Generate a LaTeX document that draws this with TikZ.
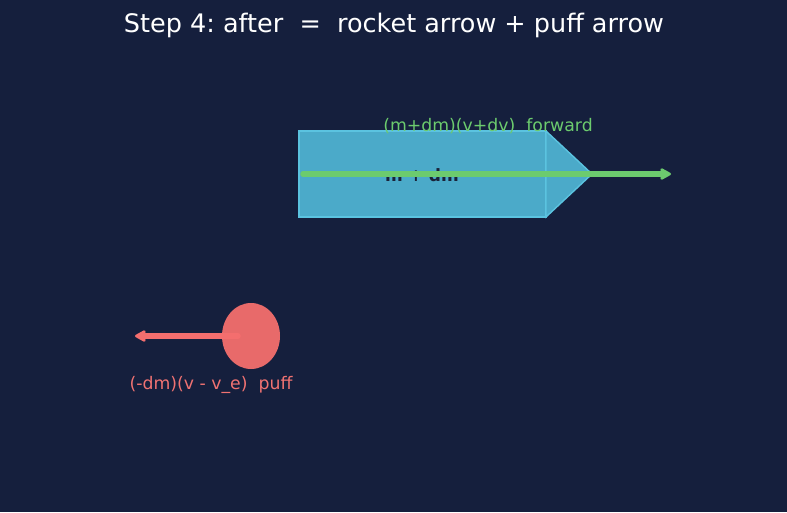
\documentclass[tikz,border=0pt]{standalone}
\usepackage{fontspec}
\setmainfont{DejaVu Sans}
\usetikzlibrary{arrows.meta,shapes.geometric}
\frenchspacing
\definecolor{bg}{HTML}{151F3D}
\definecolor{rocketfill}{HTML}{4BAAC9}
\definecolor{rocketedge}{HTML}{5BC3E0}
\definecolor{fwd}{HTML}{6CCB6E}
\definecolor{puffc}{HTML}{E86A6A}
\definecolor{puffarrow}{HTML}{F46E6E}
\definecolor{pufftxt}{HTML}{F07272}
\definecolor{darktxt}{HTML}{1A2238}
\tikzset{
  lbl/.style={font=\fontsize{17.3}{20}\selectfont, inner sep=0pt},
  vec/.style={line width=5.5pt, -{Stealth[length=13pt,width=14pt,inset=2.5pt,round]}, line cap=round}
}
\begin{document}
\begin{tikzpicture}[x=1pt,y=-1pt]
\fill[bg] (0,0) rectangle (787,512);
\useasboundingbox (0,0) rectangle (787,512);
\node[font=\fontsize{25.5}{30}\selectfont, text=white, inner sep=0pt] (title) at (394,25) {Step 4: after \ = \ rocket arrow + puff arrow};
% rocket
\draw[rocketedge, fill=rocketfill, line width=1.4pt] (299,131) rectangle (546,217);
\draw[rocketedge, fill=rocketfill, line width=1.4pt] (546,131) -- (592,174) -- (546,217) -- cycle;
\node[lbl, text=darktxt, font=\fontsize{17}{20}\selectfont\bfseries] (body) at (422,175) {m + dm};
\coordinate (rs) at (303,174);
\coordinate (re) at (671,174);
\draw[vec, fwd] (rs) -- (re);
\node[lbl, text=fwd] (fl) at (488,126) {(m+dm)(v+dv) \ forward};
% puff
\node[ellipse, minimum width=58pt, minimum height=66pt, fill=puffc, inner sep=0pt] (puff) at (251,336) {};
\coordinate (ps) at (238,336);
\coordinate (pe) at (135,336);
\draw[vec, puffarrow] (ps) -- (pe);
\node[lbl, text=pufftxt] (pl) at (211,385) {(-dm)(v - v\_e) \ puff};
\end{tikzpicture}
\end{document}
